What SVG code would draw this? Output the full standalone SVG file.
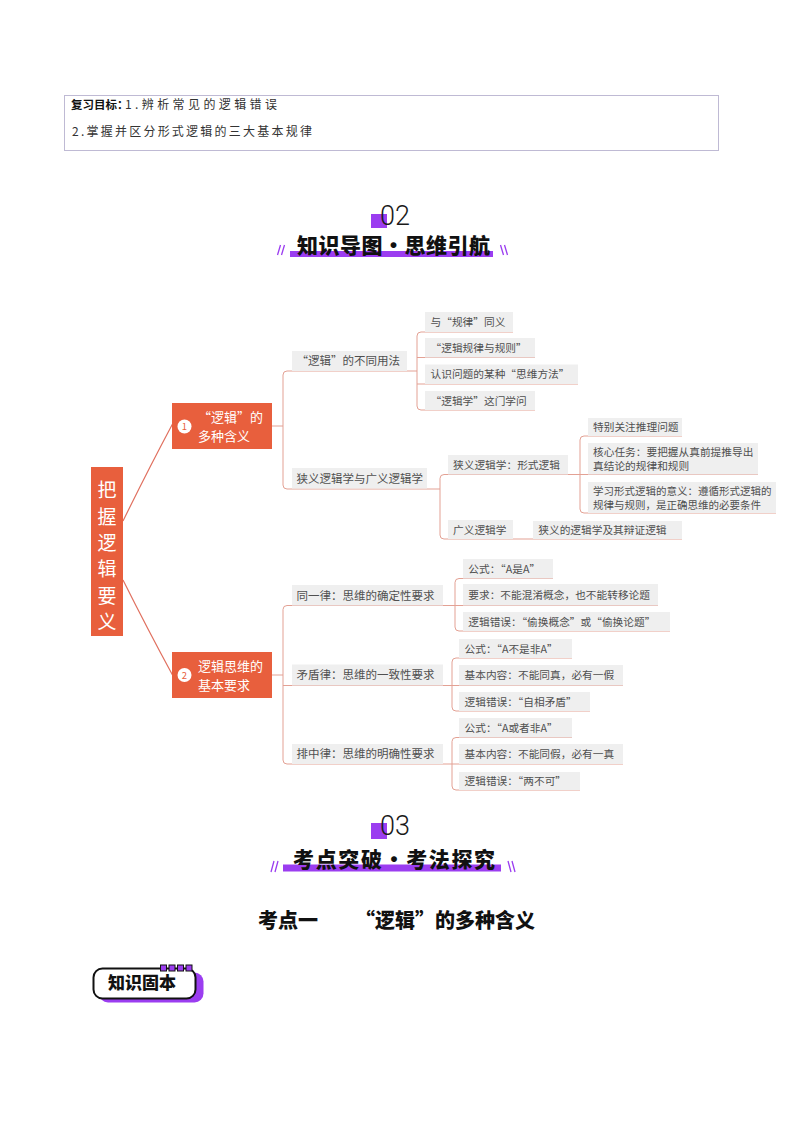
<svg xmlns="http://www.w3.org/2000/svg" width="793" height="1122" viewBox="0 0 793 1122">
<style>
  .cjk { font-family: "Noto Sans CJK SC", "Noto Sans", sans-serif; }
  .item rect { fill: #efefef; }
  .item text { font-family: "Noto Sans CJK SC", sans-serif; font-size: 10.7px; fill: #505050; }
  .lvl2 rect { fill: #efefef; }
  .lvl2 text { font-family: "Noto Sans CJK SC", sans-serif; font-size: 11.5px; fill: #505050; }
  .main rect { fill: #e85f3d; }
  .main text { font-family: "Noto Sans CJK SC", sans-serif; fill: #ffffff; }
  .conn path { fill: none; stroke: #e3a194; stroke-width: 1; }
  .conn .root { stroke: #e0705f; stroke-width: 1.2; }
  .num { font-family: "Roboto", "Liberation Sans", sans-serif; font-weight: 300; font-size: 27px; fill: #1a1a1a; }
  .ttl { font-family: "Noto Sans CJK SC", sans-serif; font-weight: 900; fill: #111; }
  .purple { fill: #9b3df0; }
  .slash { stroke: #9b3df0; stroke-width: 1.3; fill: none; }
</style>

<!-- Top review box -->
<g id="review">
  <rect x="64.5" y="95.5" width="654" height="55" fill="#ffffff" stroke="#7f74a8" stroke-width="1" stroke-dasharray="1 1"/>
  <text x="71" y="109" class="cjk" font-size="11.5" font-weight="bold" fill="#111">复习目标：</text>
  <text x="125" y="109" class="cjk" font-size="12" fill="#333" textLength="152" lengthAdjust="spacing">1.辨析常见的逻辑错误</text>
  <text x="72" y="136" class="cjk" font-size="12" fill="#333" textLength="240" lengthAdjust="spacing">2.掌握并区分形式逻辑的三大基本规律</text>
</g>

<!-- Header 02 -->
<g id="header02">
  <rect x="371" y="214" width="16" height="14" class="purple"/>
  <text x="380" y="225" class="num">02</text>
  <rect x="290" y="251" width="203" height="6" class="purple"/>
  <text x="297" y="253" class="ttl" font-size="21" textLength="193" lengthAdjust="spacing">知识导图•思维引航</text>
  <path class="slash" d="M277.5,255 L280.5,245 M281.5,255 L284.5,245"/>
  <path class="slash" d="M500.5,245 L503.5,255 M504.5,245 L507.5,255"/>
</g>

<!-- Connectors -->
<g id="connectors" class="conn">
  <path class="root" d="M123,521 Q148,470 172.5,424"/>
  <path class="root" d="M123,580 Q148,630 172.5,675"/>
  <path d="M272,426 H283"/>
  <path d="M417,371 H287 Q283,371 283,375 V485 Q283,489 287,489 H440"/>
  <path d="M513,332 H421 Q417,332 417,336 V406 Q417,410 421,410 H535"/>
  <path d="M417,357.5 H535"/>
  <path d="M417,384 H578"/>
  <path d="M580,474.5 H444 Q440,474.5 440,478.5 V535 Q440,539 444,539 H682"/>
  <path d="M682,436 H584 Q580,436 580,440 V509 Q580,513 584,513 H776"/>
  <path d="M580,474.5 H758"/>
  <path d="M272,675 H283"/>
  <path d="M455,605.5 H287 Q283,605.5 283,609.5 V760 Q283,764 287,764 H452"/>
  <path d="M283,685.5 H452"/>
  <path d="M553,578.5 H459 Q455,578.5 455,582.5 V627 Q455,631 459,631 H670"/>
  <path d="M455,605.5 H658"/>
  <path d="M572,658 H456 Q452,658 452,662 V707 Q452,711 456,711 H590"/>
  <path d="M452,685.5 H623"/>
  <path d="M572,737.5 H456 Q452,737.5 452,741.5 V786 Q452,790 456,790 H580"/>
  <path d="M452,764 H623"/>
</g>

<!-- Root node -->
<g id="root" class="main">
  <rect x="91" y="467" width="32" height="169"/>
  <text x="107" y="497" font-size="19" text-anchor="middle">把</text>
  <text x="107" y="523.5" font-size="19" text-anchor="middle">握</text>
  <text x="107" y="550" font-size="19" text-anchor="middle">逻</text>
  <text x="107" y="576" font-size="19" text-anchor="middle">辑</text>
  <text x="107" y="602.5" font-size="19" text-anchor="middle">要</text>
  <text x="107" y="629" font-size="19" text-anchor="middle">义</text>
</g>

<!-- Node 1 -->
<g id="node1" class="main">
  <rect x="172" y="403" width="100" height="46"/>
  <circle cx="184.5" cy="426.5" r="7" fill="#ffffff"/>
  <text x="184.5" y="430" font-size="9.5" text-anchor="middle" style="fill:#e85f3d">1</text>
  <text x="198" y="421.5" font-size="13">“逻辑”的</text>
  <text x="198" y="441" font-size="13">多种含义</text>
</g>

<!-- Node 2 -->
<g id="node2" class="main">
  <rect x="172" y="652" width="100" height="46"/>
  <circle cx="184.5" cy="675" r="7" fill="#ffffff"/>
  <text x="184.5" y="678.5" font-size="9.5" text-anchor="middle" style="fill:#e85f3d">2</text>
  <text x="198" y="670.5" font-size="13">逻辑思维的</text>
  <text x="198" y="690" font-size="13">基本要求</text>
</g>

<!-- Level 2 -->
<g id="usages" class="lvl2"><rect x="292" y="351" width="115" height="20"/><text x="296.5" y="365.3">“逻辑”的不同用法</text></g>
<g id="narrow-broad" class="lvl2"><rect x="292" y="468" width="135" height="20.5"/><text x="296.5" y="482.5">狭义逻辑学与广义逻辑学</text></g>
<g id="identity" class="lvl2"><rect x="292" y="585" width="151" height="20.5"/><text x="296.5" y="599.6">同一律：思维的确定性要求</text></g>
<g id="contradiction" class="lvl2"><rect x="292" y="664.5" width="151" height="21"/><text x="296.5" y="679.3">矛盾律：思维的一致性要求</text></g>
<g id="excluded-middle" class="lvl2"><rect x="292" y="744" width="151" height="20"/><text x="296.5" y="758.3">排中律：思维的明确性要求</text></g>

<!-- Usages items -->
<g id="a1" class="item"><rect x="425" y="312" width="88" height="20"/><text x="430.5" y="326">与“规律”同义</text></g>
<g id="a2" class="item"><rect x="425" y="338" width="110" height="19.5"/><text x="430.5" y="351.7">“逻辑规律与规则”</text></g>
<g id="a3" class="item"><rect x="425" y="364.5" width="153" height="19.5"/><text x="430.5" y="378.2">认识问题的某种“思维方法”</text></g>
<g id="a4" class="item"><rect x="425" y="391" width="110" height="19"/><text x="430.5" y="404.5">“逻辑学”这门学问</text></g>

<!-- Narrow / broad logic -->
<g id="b1" class="item"><rect x="448" y="455" width="120" height="19.5"/><text x="453" y="469">狭义逻辑学：形式逻辑</text></g>
<g id="b2" class="item"><rect x="448" y="520" width="65" height="19"/><text x="453" y="533.6">广义逻辑学</text></g>
<g id="b3" class="item"><rect x="533" y="521" width="149" height="18"/><text x="538.3" y="534">狭义的逻辑学及其辩证逻辑</text></g>

<g id="c1" class="item"><rect x="588" y="418" width="94" height="18"/><text x="593" y="431">特别关注推理问题</text></g>
<g id="c2" class="item"><rect x="588" y="443" width="170" height="31.5"/><text x="593" y="455.7">核心任务：要把握从真前提推导出</text><text x="593" y="469.7">真结论的规律和规则</text></g>
<g id="c3" class="item"><rect x="588" y="482" width="188" height="31"/><text x="593" y="495" style="font-size:10.5px">学习形式逻辑的意义：遵循形式逻辑的</text><text x="593" y="508.5" style="font-size:10.5px">规律与规则，是正确思维的必要条件</text></g>

<!-- Identity law items -->
<g id="d1" class="item"><rect x="463" y="559" width="90" height="19.5"/><text x="468.3" y="572.5">公式：“A是A”</text></g>
<g id="d2" class="item"><rect x="463" y="584" width="195" height="21.5"/><text x="468.3" y="598.5">要求：不能混淆概念，也不能转移论题</text></g>
<g id="d3" class="item"><rect x="463" y="612" width="207" height="19"/><text x="468.3" y="625.5">逻辑错误：“偷换概念”或“偷换论题”</text></g>

<!-- Contradiction law items -->
<g id="e1" class="item"><rect x="459" y="639" width="113" height="19"/><text x="464.5" y="652.5">公式：“A不是非A”</text></g>
<g id="e2" class="item"><rect x="459" y="665" width="164" height="20.5"/><text x="464.5" y="679">基本内容：不能同真，必有一假</text></g>
<g id="e3" class="item"><rect x="459" y="692" width="131" height="19"/><text x="464.5" y="705.5">逻辑错误：“自相矛盾”</text></g>

<!-- Excluded middle items -->
<g id="f1" class="item"><rect x="459" y="718" width="113" height="19.5"/><text x="464.5" y="731.5">公式：“A或者非A”</text></g>
<g id="f2" class="item"><rect x="459" y="744" width="164" height="20"/><text x="464.5" y="758">基本内容：不能同假，必有一真</text></g>
<g id="f3" class="item"><rect x="459" y="772" width="121" height="18"/><text x="464.5" y="785">逻辑错误：“两不可”</text></g>

<!-- Header 03 -->
<g id="header03">
  <rect x="371" y="823" width="16" height="16" class="purple"/>
  <text x="380" y="835" class="num">03</text>
  <rect x="283" y="864.5" width="218" height="7" class="purple"/>
  <text x="293" y="867" class="ttl" font-size="21" textLength="202" lengthAdjust="spacing">考点突破•考法探究</text>
  <path class="slash" d="M271,872 L274,861 M275,872 L278,861"/>
  <path class="slash" d="M508,861 L511,872 M512,861 L515,872"/>
</g>

<!-- Section title -->
<g id="section-title">
  <text x="258" y="928" class="ttl" font-size="20">考点一</text>
  <text x="535" y="928" class="ttl" font-size="20" text-anchor="end">“逻辑”的多种含义</text>
</g>

<!-- Knowledge badge -->
<g id="badge">
  <rect x="99" y="972.5" width="104.5" height="30" rx="9" class="purple"/>
  <rect x="93.5" y="968.5" width="102" height="30" rx="9" fill="#ffffff" stroke="#111" stroke-width="2"/>
  <rect x="160.5" y="965" width="6" height="6" class="purple" stroke="#111" stroke-width="1"/>
  <rect x="169" y="965" width="6" height="6" class="purple" stroke="#111" stroke-width="1"/>
  <rect x="177.5" y="965" width="6" height="6" class="purple" stroke="#111" stroke-width="1"/>
  <rect x="186" y="965" width="6" height="6" class="purple" stroke="#111" stroke-width="1"/>
  <text x="108" y="988.5" class="ttl" font-size="17">知识固本</text>
</g>
</svg>
